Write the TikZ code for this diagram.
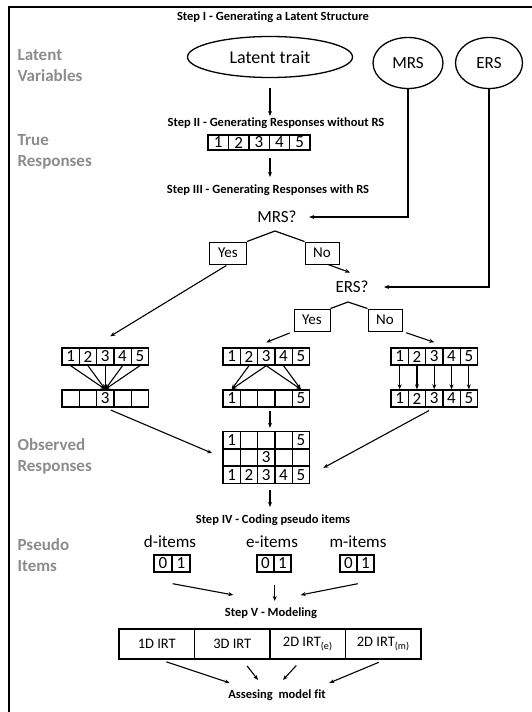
\documentclass[tikz,border=0pt]{standalone}
\usepackage{fontspec}
\setmainfont{Carlito}[Ligatures={NoCommon}]
\usetikzlibrary{positioning}
\usetikzlibrary{shapes.geometric, arrows.meta}
\definecolor{labelgray}{RGB}{140,140,140}

\begin{document}
\begin{tikzpicture}[x=1pt, y=-1pt, line width=1.2pt,
    steptitle/.style={font=\fontsize{12.5}{14}\selectfont\bfseries, inner sep=1pt},
    sidelabel/.style={anchor=west, align=left, text=labelgray, font=\fontsize{17}{21}\selectfont\bfseries, inner sep=0pt},
    txt/.style={font=\fontsize{17}{20}\selectfont, inner sep=2pt},
    cell/.style={draw, line width=1.4pt, minimum width=17.3pt, minimum height=17pt, inner sep=0pt, font=\fontsize{17}{17}\selectfont},
    topcell/.style={cell, minimum width=20.4pt, minimum height=15pt},
    choice/.style={draw, line width=1pt, minimum height=22pt, inner sep=0pt, font=\fontsize{15}{15}\selectfont},
    model/.style={draw, line width=1.2pt, minimum width=75.5pt, minimum height=30pt, inner sep=0pt, font=\fontsize{14.5}{15}\selectfont},
    arr/.style={-{Stealth[length=5pt,width=4pt]}, line width=1.1pt}]

    \useasboundingbox (0,0) rectangle (532,712);
    \draw[line width=1.5pt] (532,7) -- (9,7) -- (9,712);

    % side labels
    \node (lv)[sidelabel] at (17,66) {Latent\\Variables};
    \node (tr)[sidelabel] at (17,152) {True\\Responses};
    \node (ob)[sidelabel] at (17,456) {Observed\\Responses};
    \node (ps)[sidelabel] at (17,555) {Pseudo\\Items};

    % step I
    \node (s1)[steptitle] at (273,17) {Step I - Generating a Latent Structure};
    \node (trait)[draw, ellipse, txt, minimum width=165pt, minimum height=41pt, line width=1.3pt] at (270,57) {\fontsize{18}{18}\selectfont Latent trait};
    \node (mrs)[draw, ellipse, txt, minimum width=70pt, minimum height=51pt, line width=1.3pt] at (408,63) {MRS};
    \node (ers)[draw, ellipse, txt, minimum width=67pt, minimum height=51pt, line width=1.3pt] at (489,63) {ERS};

    % step II
    \node (s2)[steptitle] at (276,123) {Step II - Generating Responses without RS};
    \foreach \i in {1,...,5}
        \node (t\i)[topcell] at ({208+20.4*\i-10.2},142.5) {\i};
    \draw[arr, shorten <=10pt] (trait.south) -- (trait.south |- s2.north);

    % step III
    \node (s3)[steptitle] at (268,190) {Step III - Generating Responses with RS};
    \draw[arr, shorten <=7pt, shorten >=6pt] (trait.south |- t1.south) -- (trait.south |- s3.north);
    \node (mq)[txt] at (277,217) {MRS?};
    \node (eq)[txt] at (352,287) {ERS?};
    \draw[arr, shorten >=10pt] (mrs.south) |- (mq.east);
    \draw[arr, shorten >=13pt] (ers.south) |- (eq.east);

    \coordinate (a1) at (275,231);
    \node (y1)[choice, minimum width=37pt] at (228,253) {Yes};
    \node (n1)[choice, minimum width=34pt] at (322,253) {No};
    \draw (y1.north east) -- (a1) -- (n1.north west);
    \draw[arr] ([xshift=6pt]n1.south) -- ([xshift=-2pt,yshift=6pt]eq.north);

    \coordinate (a2) at (348,302);
    \node (y2)[choice, minimum width=36pt] at (312,320) {Yes};
    \node (n2)[choice, minimum width=34pt] at (385,320) {No};
    \draw (y2.north east) -- (a2) -- (n2.north west);

    % three response patterns
    \foreach \i in {1,...,5} {
        \node (l\i)[cell] at ({62+17.3*\i-8.65},356.5) {\i};
        \node (m\i)[cell] at ({223+17.3*\i-8.65},356.5) {\i};
        \node (r\i)[cell] at ({391+17.3*\i-8.65},356.5) {\i};
        \node (rr\i)[cell] at ({391+17.3*\i-8.65},398.5) {\i};
    }
    \foreach \i/\v in {1/,2/,3/3,4/,5/}
        \node (ll\i)[cell] at ({62+17.3*\i-8.65},398.5) {\v};
    \foreach \i/\v in {1/1,2/,3/,4/,5/5}
        \node (mm\i)[cell] at ({223+17.3*\i-8.65},398.5) {\v};

    \draw[arr, shorten <=2pt] (y1.south) -- ([xshift=5pt,yshift=11pt]l3.north);
    \draw[arr, shorten <=4pt] (y2.south west) -- ([yshift=5pt]m3.north);
    \draw[arr, shorten <=4pt] (n2.south east) -- ([yshift=5pt]r3.north);

    \foreach \i in {1,...,5} {
        \draw[arr] (l\i.south) -- (ll3.north);
        \draw[arr] (r\i.south) -- (rr\i.north);
    }
    \draw[arr] (m2.south) -- (mm1.north);
    \draw[arr] (m3.south) -- (mm1.north);
    \draw[arr] (m3.south) -- (mm5.north);
    \draw[arr] (m4.south) -- (mm5.north);

    % observed responses
    \foreach \i/\v in {1/1,2/,3/,4/,5/5}
        \node (oa\i)[cell] at ({223+17.3*\i-8.65},440) {\v};
    \foreach \i/\v in {1/,2/,3/3,4/,5/}
        \node (ob\i)[cell] at ({223+17.3*\i-8.65},457.5) {\v};
    \foreach \i in {1,...,5}
        \node (oc\i)[cell] at ({223+17.3*\i-8.65},475) {\i};

    \draw[arr, shorten <=6pt, shorten >=11pt] (ll3.south) -- (ob1.west);
    \draw[arr, shorten <=6pt, shorten >=15pt] (rr3.south) -- (oc5.east);
    \draw[arr, shorten <=3pt, shorten >=3pt] (trait.south |- mm3.south) -- (trait.south |- oa3.north);

    % step IV
    \node (s4)[steptitle] at (273,520) {Step IV - Coding pseudo items};
    \draw[arr, shorten <=6pt, shorten >=6pt] (trait.south |- oc3.south) -- (trait.south |- s4.north);
    \node (di)[txt] at (170,542) {d-items};
    \node (ei)[txt] at (272,542) {e-items};
    \node (mi)[txt] at (358,542) {m-items};
    \node (d0)[cell, minimum width=18pt] at (163,563.5) {0};
    \node (d1)[cell, minimum width=18pt] at (181,563.5) {1};
    \node (e0)[cell, minimum width=17pt] at (265.5,563.5) {0};
    \node (e1)[cell, minimum width=17pt] at (282.5,563.5) {1};
    \node (m0)[cell, minimum width=17pt] at (348.5,563.5) {0};
    \node (m1)[cell, minimum width=17pt] at (365.5,563.5) {1};

    % step V
    \node (s5)[steptitle] at (271,613) {Step V - Modeling};
    \draw[arr] ([yshift=-11pt]d0.south east) -- ([xshift=10pt,yshift=11pt]s5.north west);
    \draw[arr, shorten <=12pt, shorten >=5pt] (e0.south east) -- (e0.south east |- s5.north);
    \draw[arr] ([yshift=-11pt]m0.south east) -- ([xshift=-18pt,yshift=11pt]s5.north east);

    \node (mo1)[model] at (156.75,644) {1D IRT};
    \node (mo2)[model] at (232.25,644) {3D IRT};
    \node (mo3)[model] at (307.75,644) {2D IRT\textsubscript{(e)}};
    \node (mo4)[model] at (383.25,644) {2D IRT\textsubscript{(m)}};

    \node (fit)[steptitle] at (277,695) {Assesing\ \ model fit};
    \draw[arr, shorten <=7pt] ([xshift=3pt]mo1.south) -- ([xshift=3pt,yshift=5pt]fit.north west);
    \draw[arr, shorten <=8pt] ([xshift=10pt]mo2.south) -- ([xshift=-19pt,yshift=8pt]fit.north);
    \draw[arr, shorten <=8pt] ([xshift=-6pt]mo3.south) -- ([xshift=6pt,yshift=8pt]fit.north);
    \draw[arr, shorten <=7pt] ([xshift=2pt]mo4.south) -- ([xshift=2pt,yshift=5pt]fit.north east);

\end{tikzpicture}
\end{document}
